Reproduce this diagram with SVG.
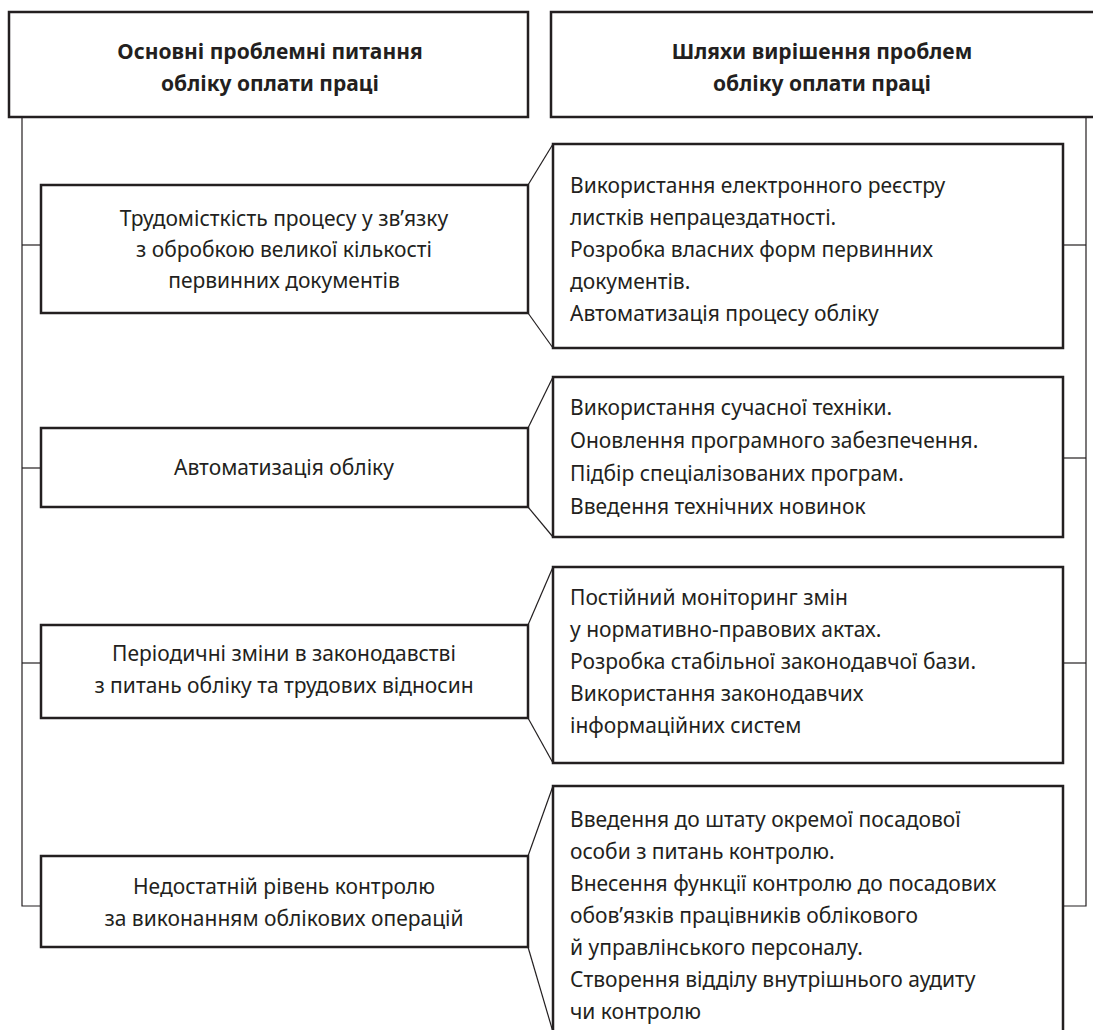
<svg xmlns="http://www.w3.org/2000/svg" width="1093" height="1030" viewBox="0 0 1093 1030">
<style>
.box{fill:#fff;stroke:#231f20;stroke-width:2.5}
.ln{fill:none;stroke:#231f20;stroke-width:1.2}
text{font-family:"Noto Sans","Open Sans",sans-serif;font-size:21px;fill:#231f20}
.h{font-weight:bold;text-anchor:middle;font-size:21px}
.c{text-anchor:middle}
</style>
<rect width="1093" height="1030" fill="#fff"/>
<g id="connectors">
<polyline class="ln" points="22,117 22,906 41,906"/>
<line class="ln" x1="22" y1="245" x2="41" y2="245"/>
<line class="ln" x1="22" y1="468" x2="41" y2="468"/>
<line class="ln" x1="22" y1="663" x2="41" y2="663"/>
<polyline class="ln" points="1086,117 1086,906 1063,906"/>
<line class="ln" x1="1063" y1="245" x2="1086" y2="245"/>
<line class="ln" x1="1063" y1="458" x2="1086" y2="458"/>
<line class="ln" x1="1063" y1="663" x2="1086" y2="663"/>
<line class="ln" x1="528" y1="185" x2="553" y2="144"/>
<line class="ln" x1="528" y1="313" x2="553" y2="348"/>
<line class="ln" x1="528" y1="428" x2="553" y2="377"/>
<line class="ln" x1="528" y1="507" x2="553" y2="537"/>
<line class="ln" x1="528" y1="625" x2="553" y2="567"/>
<line class="ln" x1="528" y1="718" x2="553" y2="763"/>
<line class="ln" x1="528" y1="856" x2="553" y2="786"/>
<line class="ln" x1="528" y1="947" x2="553" y2="1032"/>
</g>
<g id="header-left">
<rect class="box" x="9" y="12" width="519" height="105"/>
<text class="h" x="270" y="59">Основні проблемні питання</text>
<text class="h" x="270" y="91">обліку оплати праці</text>
</g>
<g id="header-right">
<rect class="box" x="551" y="12" width="560" height="105"/>
<text class="h" x="822" y="59">Шляхи вирішення проблем</text>
<text class="h" x="822" y="91">обліку оплати праці</text>
</g>
<g id="problem-1">
<rect class="box" x="41" y="185" width="487" height="128"/>
<text class="c" x="284" y="226">Трудомісткість процесу у зв’язку</text>
<text class="c" x="284" y="257">з обробкою великої кількості</text>
<text class="c" x="284" y="288">первинних документів</text>
</g>
<g id="solution-1">
<rect class="box" x="553" y="144" width="510" height="204"/>
<text x="570" y="193">Використання електронного реєстру</text>
<text x="570" y="225">листків непрацездатності.</text>
<text x="570" y="257">Розробка власних форм первинних</text>
<text x="570" y="289">документів.</text>
<text x="570" y="321">Автоматизація процесу обліку</text>
</g>
<g id="problem-2">
<rect class="box" x="41" y="428" width="487" height="79"/>
<text class="c" x="284" y="475">Автоматизація обліку</text>
</g>
<g id="solution-2">
<rect class="box" x="553" y="377" width="510" height="160"/>
<text x="570" y="415">Використання сучасної техніки.</text>
<text x="570" y="448">Оновлення програмного забезпечення.</text>
<text x="570" y="481">Підбір спеціалізованих програм.</text>
<text x="570" y="514">Введення технічних новинок</text>
</g>
<g id="problem-3">
<rect class="box" x="41" y="625" width="487" height="93"/>
<text class="c" x="284" y="661">Періодичні зміни в законодавстві</text>
<text class="c" x="284" y="693">з питань обліку та трудових відносин</text>
</g>
<g id="solution-3">
<rect class="box" x="553" y="567" width="510" height="196"/>
<text x="570" y="605">Постійний моніторинг змін</text>
<text x="570" y="637">у нормативно-правових актах.</text>
<text x="570" y="669">Розробка стабільної законодавчої бази.</text>
<text x="570" y="701">Використання законодавчих</text>
<text x="570" y="733">інформаційних систем</text>
</g>
<g id="problem-4">
<rect class="box" x="41" y="856" width="487" height="91"/>
<text class="c" x="284" y="894">Недостатній рівень контролю</text>
<text class="c" x="284" y="926">за виконанням облікових операцій</text>
</g>
<g id="solution-4">
<rect class="box" x="553" y="786" width="510" height="260"/>
<text x="570" y="827">Введення до штату окремої посадової</text>
<text x="570" y="859">особи з питань контролю.</text>
<text x="570" y="891">Внесення функції контролю до посадових</text>
<text x="570" y="923">обов’язків працівників облікового</text>
<text x="570" y="955">й управлінського персоналу.</text>
<text x="570" y="987">Створення відділу внутрішнього аудиту</text>
<text x="570" y="1019">чи контролю</text>
</g>
</svg>
